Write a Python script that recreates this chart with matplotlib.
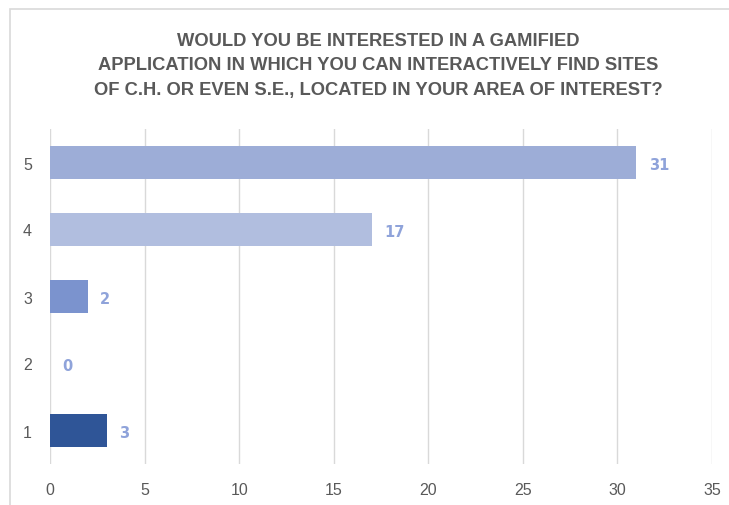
import matplotlib
matplotlib.use("Agg")
import matplotlib.pyplot as plt
from matplotlib.patches import Rectangle

# ---------------------------------------------------------------- data
categories = ["1", "2", "3", "4", "5"]
counts = [3, 0, 2, 17, 31]
bar_colors = ["#2F5597", "#D9E0F1", "#7B93CE", "#B1BEDF", "#9DADD7"]
x_ticks = [0, 5, 10, 15, 20, 25, 30, 35]
title = ("WOULD YOU BE INTERESTED IN A GAMIFIED\n"
         "APPLICATION IN WHICH YOU CAN INTERACTIVELY FIND SITES\n"
         "OF C.H. OR EVEN S.E., LOCATED IN YOUR AREA OF INTEREST?")

plt.rcParams["font.family"] = ["DejaVu Sans Condensed", "Liberation Sans Narrow",
                               "Liberation Sans", "DejaVu Sans"]

W, H = 729, 506
fig = plt.figure(figsize=(W / 100, H / 100), dpi=100)
fig.patch.set_facecolor("white")

# outer chart frame (cropped on right/bottom like the screenshot)
fig.patches.append(Rectangle((10 / W, -0.1), 1.2, 1 - 10 / H + 0.1,
                             transform=fig.transFigure, fill=False,
                             ec="#D9D9D9", lw=1.2))

ax = fig.add_axes([50 / W, 1 - 465 / H, (712 - 50) / W, (465 - 130) / H])
ypos = list(range(1, len(categories) + 1))
ax.barh(ypos, counts, height=0.5, color=bar_colors, zorder=3)

for y, v in zip(ypos, counts):
    ax.text(v + 0.65, y - 0.03, str(v), va="center", ha="left", fontsize=10.5,
            fontweight="bold", color="#8FA3DA", family=["DejaVu Sans"])

ax.set_xlim(0, 35)
ax.set_ylim(0.5, 5.5)
ax.set_xticks(x_ticks)
ax.set_yticks(ypos)
ax.set_yticklabels(categories)
ax.tick_params(length=0, labelsize=11.5, labelcolor="#595959")
ax.tick_params(axis="x", pad=13)
ax.tick_params(axis="y", pad=13)
ax.grid(axis="x", color="#D9D9D9", lw=1.0, zorder=0)
for s in ax.spines.values():
    s.set_visible(False)

fig.text(378 / W, 1 - 66 / H, title, ha="center", va="center",
         fontsize=13.2, fontweight="bold", color="#595959", linespacing=1.55)

fig.savefig("out.png", dpi=100)
